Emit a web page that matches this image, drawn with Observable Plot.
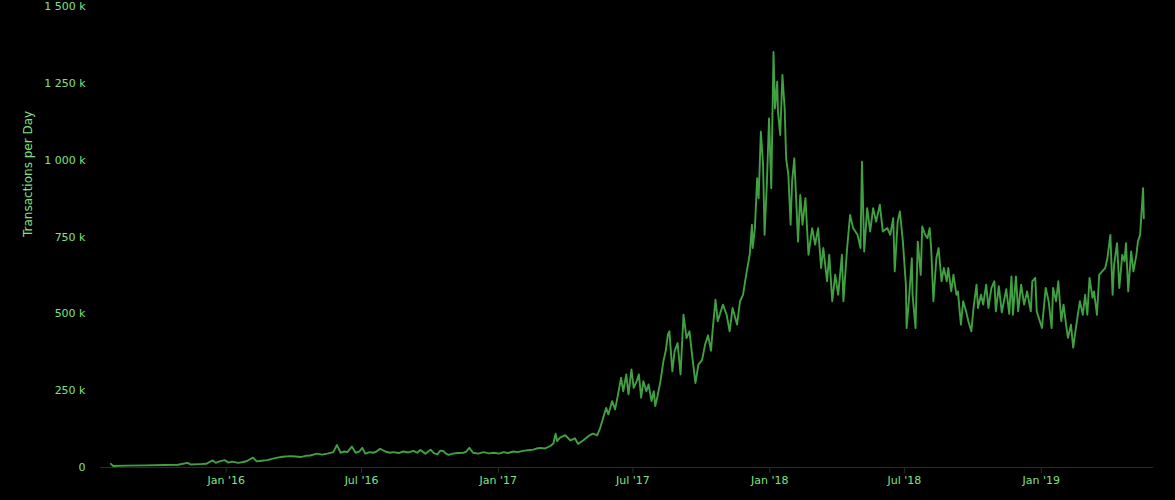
<!DOCTYPE html>
<html>
<head>
<meta charset="utf-8">
<script src="https://cdn.jsdelivr.net/npm/d3@7"></script>
<script src="https://cdn.jsdelivr.net/npm/@observablehq/plot@0.6"></script>
<style>
  html, body { margin: 0; padding: 0; background: #000; }
  #chart { width: 1175px; height: 500px; }
</style>
</head>
<body>
<div id="chart"></div>
<script>
// Transactions per day, in thousands
const tx2015 = [
  ["2015-07-30", 12], ["2015-08-02", 5], ["2015-08-20", 6], ["2015-09-15", 7], ["2015-10-10", 8],
  ["2015-10-28", 9], ["2015-11-10", 15], ["2015-11-14", 10], ["2015-11-27", 11], ["2015-12-05", 12],
  ["2015-12-10", 18], ["2015-12-14", 23], ["2015-12-18", 15], ["2015-12-23", 20], ["2015-12-30", 24]
];
const tx2016 = [
  ["2016-01-04", 16], ["2016-01-09", 19], ["2016-01-17", 15], ["2016-01-24", 18], ["2016-01-29", 21],
  ["2016-02-06", 32], ["2016-02-11", 20], ["2016-02-18", 22], ["2016-02-25", 24], ["2016-03-04", 29],
  ["2016-03-10", 32], ["2016-03-17", 35], ["2016-03-27", 37], ["2016-04-03", 36], ["2016-04-10", 34],
  ["2016-04-17", 38], ["2016-04-23", 39], ["2016-05-02", 45], ["2016-05-09", 42], ["2016-05-16", 45],
  ["2016-05-24", 50], ["2016-05-29", 73], ["2016-06-03", 48], ["2016-06-08", 52], ["2016-06-12", 50],
  ["2016-06-18", 68], ["2016-06-23", 48], ["2016-06-28", 52], ["2016-07-02", 64], ["2016-07-06", 45],
  ["2016-07-12", 50], ["2016-07-17", 48], ["2016-07-21", 52], ["2016-07-26", 61], ["2016-08-02", 52],
  ["2016-08-08", 48], ["2016-08-13", 50], ["2016-08-20", 47], ["2016-08-26", 52], ["2016-09-02", 49],
  ["2016-09-09", 54], ["2016-09-14", 48], ["2016-09-18", 57], ["2016-09-22", 50], ["2016-09-25", 45],
  ["2016-09-29", 53], ["2016-10-02", 58], ["2016-10-06", 47], ["2016-10-11", 43], ["2016-10-15", 55],
  ["2016-10-19", 54], ["2016-10-22", 46], ["2016-10-26", 41], ["2016-11-01", 45], ["2016-11-07", 47],
  ["2016-11-15", 48], ["2016-11-19", 52], ["2016-11-23", 64], ["2016-11-28", 48], ["2016-12-05", 45],
  ["2016-12-12", 50], ["2016-12-19", 46], ["2016-12-26", 48]
];
const tx2017 = [
  ["2017-01-02", 45], ["2017-01-08", 50], ["2017-01-14", 47], ["2017-01-21", 52], ["2017-01-27", 50],
  ["2017-02-03", 54], ["2017-02-10", 56], ["2017-02-17", 58], ["2017-02-22", 62], ["2017-02-26", 64],
  ["2017-03-05", 62], ["2017-03-12", 70], ["2017-03-16", 78], ["2017-03-19", 110], ["2017-03-21", 86],
  ["2017-03-25", 97], ["2017-04-01", 105], ["2017-04-08", 88], ["2017-04-14", 95], ["2017-04-18", 77],
  ["2017-04-25", 88], ["2017-05-02", 102], ["2017-05-08", 110], ["2017-05-14", 105], ["2017-05-18", 129],
  ["2017-05-22", 162], ["2017-05-26", 194], ["2017-05-29", 173], ["2017-06-03", 216], ["2017-06-07", 189],
  ["2017-06-11", 238], ["2017-06-15", 292], ["2017-06-18", 248], ["2017-06-22", 303], ["2017-06-25", 238],
  ["2017-06-29", 319], ["2017-07-02", 259], ["2017-07-06", 281], ["2017-07-09", 303], ["2017-07-12", 227],
  ["2017-07-15", 281], ["2017-07-19", 248], ["2017-07-22", 270], ["2017-07-26", 216], ["2017-07-29", 248],
  ["2017-07-31", 200], ["2017-08-03", 232], ["2017-08-07", 281], ["2017-08-11", 346], ["2017-08-14", 378],
  ["2017-08-17", 432], ["2017-08-19", 443], ["2017-08-23", 313], ["2017-08-26", 378], ["2017-08-30", 405],
  ["2017-09-03", 303], ["2017-09-07", 497], ["2017-09-11", 421], ["2017-09-15", 443], ["2017-09-19", 357],
  ["2017-09-23", 275], ["2017-09-27", 335], ["2017-10-02", 350], ["2017-10-06", 400], ["2017-10-10", 430],
  ["2017-10-14", 380], ["2017-10-16", 443], ["2017-10-20", 546], ["2017-10-23", 476], ["2017-10-30", 530],
  ["2017-11-04", 497], ["2017-11-08", 443], ["2017-11-12", 519], ["2017-11-18", 465], ["2017-11-22", 541],
  ["2017-11-26", 562], ["2017-12-01", 638], ["2017-12-05", 692], ["2017-12-08", 790], ["2017-12-09", 714],
  ["2017-12-12", 779], ["2017-12-15", 941], ["2017-12-17", 876], ["2017-12-20", 1093], ["2017-12-23", 984],
  ["2017-12-25", 757], ["2017-12-28", 920], ["2017-12-31", 1136]
];
const tx2018 = [
  ["2018-01-03", 909], ["2018-01-06", 1352], ["2018-01-08", 1168], ["2018-01-11", 1255], ["2018-01-12", 1158],
  ["2018-01-15", 1082], ["2018-01-18", 1277], ["2018-01-21", 1168], ["2018-01-23", 1006], ["2018-01-26", 952],
  ["2018-01-29", 790], ["2018-01-31", 930], ["2018-02-03", 1006], ["2018-02-06", 844], ["2018-02-08", 735],
  ["2018-02-11", 887], ["2018-02-14", 790], ["2018-02-18", 876], ["2018-02-22", 692], ["2018-02-27", 779],
  ["2018-03-03", 725], ["2018-03-07", 779], ["2018-03-11", 649], ["2018-03-14", 714], ["2018-03-19", 606],
  ["2018-03-22", 692], ["2018-03-26", 541], ["2018-03-30", 627], ["2018-04-03", 562], ["2018-04-08", 692],
  ["2018-04-10", 541], ["2018-04-15", 714], ["2018-04-19", 822], ["2018-04-23", 779], ["2018-04-29", 757],
  ["2018-05-03", 714], ["2018-05-05", 995], ["2018-05-08", 703], ["2018-05-12", 844], ["2018-05-16", 768],
  ["2018-05-20", 844], ["2018-05-24", 800], ["2018-05-29", 855], ["2018-06-02", 768], ["2018-06-08", 779],
  ["2018-06-12", 757], ["2018-06-16", 811], ["2018-06-18", 638], ["2018-06-22", 800], ["2018-06-25", 833],
  ["2018-06-29", 735], ["2018-07-03", 595], ["2018-07-04", 454], ["2018-07-07", 541], ["2018-07-11", 681],
  ["2018-07-12", 562], ["2018-07-16", 454], ["2018-07-19", 735], ["2018-07-23", 627], ["2018-07-25", 784],
  ["2018-07-29", 757], ["2018-08-01", 746], ["2018-08-04", 779], ["2018-08-06", 714], ["2018-08-09", 541],
  ["2018-08-13", 681], ["2018-08-16", 714], ["2018-08-20", 606], ["2018-08-23", 649], ["2018-08-27", 606],
  ["2018-08-29", 649], ["2018-09-02", 573], ["2018-09-05", 627], ["2018-09-09", 562], ["2018-09-11", 573],
  ["2018-09-15", 465], ["2018-09-18", 541], ["2018-09-22", 508], ["2018-09-25", 476], ["2018-09-29", 443],
  ["2018-10-02", 519], ["2018-10-06", 595], ["2018-10-08", 519], ["2018-10-12", 562], ["2018-10-15", 530],
  ["2018-10-19", 595], ["2018-10-22", 519], ["2018-10-26", 584], ["2018-10-30", 606], ["2018-11-01", 508],
  ["2018-11-05", 590], ["2018-11-09", 505], ["2018-11-15", 580], ["2018-11-19", 500], ["2018-11-22", 622],
  ["2018-11-24", 497], ["2018-11-28", 622], ["2018-12-01", 508], ["2018-12-05", 595], ["2018-12-09", 530],
  ["2018-12-13", 573], ["2018-12-18", 508], ["2018-12-20", 606], ["2018-12-24", 617], ["2018-12-26", 508]
];
const tx2019 = [
  ["2019-01-02", 454], ["2019-01-07", 584], ["2019-01-11", 541], ["2019-01-15", 454], ["2019-01-17", 584],
  ["2019-01-21", 541], ["2019-01-24", 606], ["2019-01-28", 476], ["2019-01-31", 530], ["2019-02-04", 454],
  ["2019-02-06", 422], ["2019-02-10", 465], ["2019-02-13", 390], ["2019-02-16", 443], ["2019-02-18", 476],
  ["2019-02-22", 541], ["2019-02-26", 497], ["2019-03-01", 562], ["2019-03-04", 497], ["2019-03-07", 617],
  ["2019-03-11", 552], ["2019-03-13", 573], ["2019-03-17", 497], ["2019-03-20", 627], ["2019-03-24", 638],
  ["2019-03-28", 649], ["2019-03-31", 681], ["2019-04-04", 757], ["2019-04-07", 562], ["2019-04-09", 660],
  ["2019-04-13", 730], ["2019-04-16", 584], ["2019-04-20", 692], ["2019-04-23", 671], ["2019-04-25", 730],
  ["2019-04-28", 573], ["2019-05-02", 703], ["2019-05-05", 638], ["2019-05-09", 692], ["2019-05-11", 735],
  ["2019-05-14", 757], ["2019-05-18", 909], ["2019-05-19", 811]
];

const xTickDates = ["2016-01-01", "2016-07-01", "2017-01-01", "2017-07-01", "2018-01-01", "2018-07-01", "2019-01-01"];
const yTickValues = [0, 250000, 500000, 750000, 1000000, 1250000, 1500000];
const yLabel = "Transactions per Day";

const labelColor = "#82e082";
const lineColor = "#41a041";
const axisColor = "#1c331c";

const parse = d3.utcParse("%Y-%m-%d");
const rows = [...tx2015, ...tx2016, ...tx2017, ...tx2018, ...tx2019]
  .map(([d, v]) => ({date: parse(d), value: v * 1000}));

const spaceFmt = d3.formatLocale({decimal: ".", thousands: " ", grouping: [3], currency: ["", ""]}).format(",");
const yFmt = v => v === 0 ? "0" : spaceFmt(v / 1000) + " k";

const chart = Plot.plot({
  width: 1175,
  height: 500,
  marginLeft: 100,
  marginRight: 22,
  marginTop: 6,
  marginBottom: 33,
  style: {background: "#000", color: labelColor, fontFamily: "DejaVu Sans", fontSize: "11px", overflow: "visible"},
  x: {type: "utc", domain: [parse("2015-07-16"), parse("2019-06-01")]},
  y: {domain: [0, 1500000]},
  marks: [
    Plot.ruleY([0], {stroke: axisColor}),
    Plot.line(rows, {x: "date", y: "value", stroke: lineColor, strokeWidth: 1.9, strokeLinejoin: "round"}),
    Plot.axisX({ticks: xTickDates.map(parse), tickFormat: d3.utcFormat("%b '%y"), tickSize: 6, tickPadding: 3,
      stroke: axisColor, fill: labelColor, label: null}),
    Plot.axisY({ticks: yTickValues, tickFormat: yFmt, tickSize: 0, tickPadding: 15, fill: labelColor, label: null}),
    Plot.text([yLabel], {frameAnchor: "left", rotate: -90, dx: -72, fontSize: 12, fill: labelColor})
  ]
});
document.getElementById("chart").appendChild(chart);
</script>
</body>
</html>
